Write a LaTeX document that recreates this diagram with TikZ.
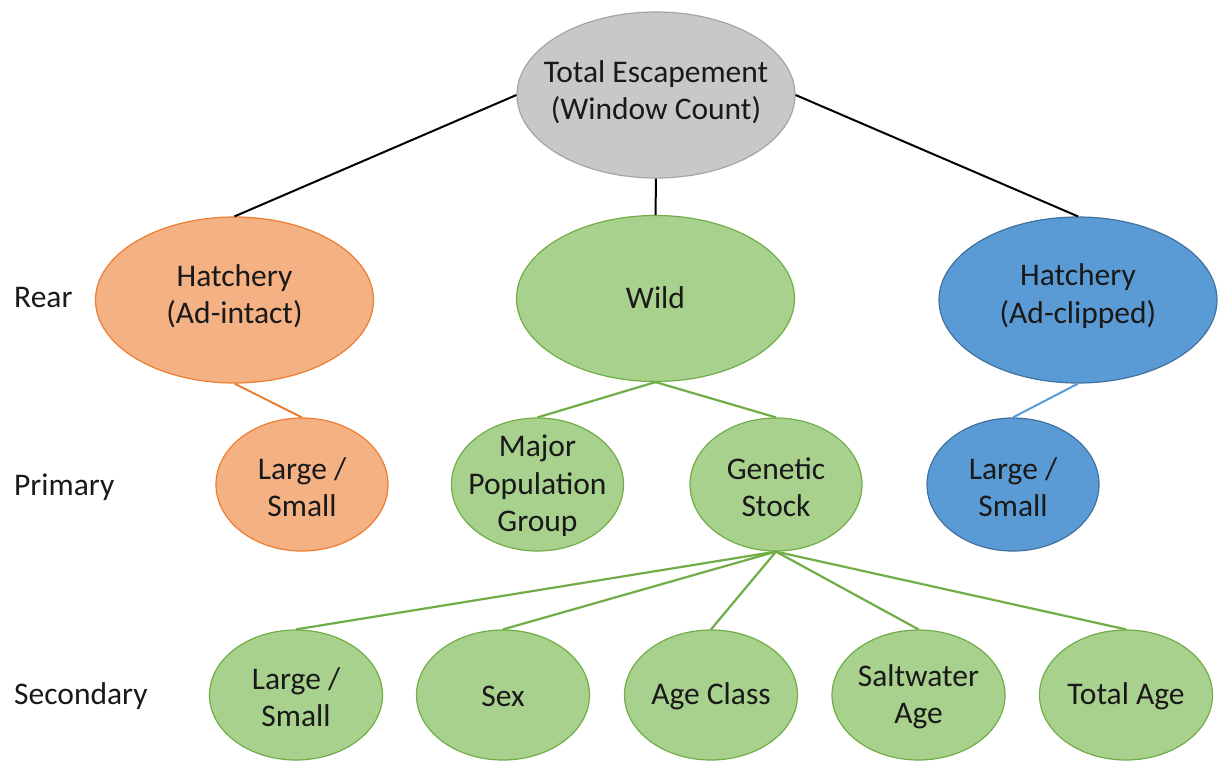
\documentclass[tikz,border=0pt]{standalone}
\usepackage{fontspec}
\setmainfont{Carlito}
\usetikzlibrary{shapes.geometric}
\definecolor{grayfill}{HTML}{C8C8C8}
\definecolor{grayline}{HTML}{A5A5A5}
\definecolor{orfill}{HTML}{F4B183}
\definecolor{orline}{HTML}{ED7D31}
\definecolor{grfill}{HTML}{A9D18E}
\definecolor{grline}{HTML}{70AD47}
\definecolor{blfill}{HTML}{5B9BD5}
\definecolor{blline}{HTML}{41719C}
\tikzset{
  ell/.style={ellipse, inner sep=0pt, line width=1.2pt},
  big/.style={ell, minimum width=278pt, minimum height=166pt},
  mid/.style={ell, minimum width=172pt, minimum height=133pt},
  small/.style={ell, minimum width=173pt, minimum height=130pt},
  grayell/.style={fill=grayfill, draw=grayline},
  orell/.style={fill=orfill, draw=orline},
  grell/.style={fill=grfill, draw=grline},
  blell/.style={fill=blfill, draw=blline},
  txt/.style={align=center, font=\fontsize{31.5}{37.5}\selectfont, text=black!90, inner sep=0pt},
  rowlab/.style={anchor=west, font=\fontsize{31.5}{37.5}\selectfont, text=black!90, inner sep=0pt},
  blk/.style={draw=black, line width=2pt},
  grc/.style={draw=grline, line width=2.2pt},
  orc/.style={draw=orline, line width=2pt},
  blc/.style={draw=blfill, line width=2pt},
}
\begin{document}
\begin{tikzpicture}[x=1pt,y=-1pt]
\useasboundingbox (0,0) rectangle (1221,761);
% nodes
\node[big, grayell] (te) at (656,95) {};
\node[big, orell] (ha) at (234.5,300) {};
\node[big, grell] (wi) at (655.5,298.5) {};
\node[big, blell] (hc) at (1078,300) {};
\node[mid, orell] (ol) at (302,484.5) {};
\node[mid, grell] (mp) at (537.5,484.5) {};
\node[mid, grell] (gs) at (776,484.5) {};
\node[mid, blell] (bl) at (1013,484.5) {};
\node[small, grell] (s1) at (296,695) {};
\node[small, grell] (s2) at (503,695) {};
\node[small, grell] (s3) at (711,695) {};
\node[small, grell] (s4) at (918.5,695) {};
\node[small, grell] (s5) at (1126,695) {};
% texts
\node[txt] (tet) at (656,92) {Total Escapement\\(Window Count)};
\node[txt] (hat) at (234.5,296) {Hatchery\\(Ad-intact)};
\node[txt] (wit) at (655.5,298) {Wild};
\node[txt] (hct) at (1078,296) {Hatchery\\(Ad-clipped)};
\node[txt] (olt) at (302,487) {Large /\\Small};
\node[txt] (mpt) at (537.5,486) {Major\\Population\\Group};
\node[txt] (gst) at (776,487) {Genetic\\Stock};
\node[txt] (blt) at (1013,487) {Large /\\Small};
\node[txt] (s1t) at (296,697) {Large /\\Small};
\node[txt] (s2t) at (503,696) {Sex};
\node[txt] (s3t) at (711,696) {Age Class};
\node[txt] (s4t) at (918.5,697) {Saltwater\\Age};
\node[txt] (s5t) at (1126,696) {Total Age};
% row labels
\node[rowlab] (r1) at (14,298) {Rear};
\node[rowlab] (r2) at (14,487) {Primary};
\node[rowlab] (r3) at (14,696) {Secondary};
% connectors
\draw[blk] (te.west) -- (ha.north);
\draw[blk] (te.east) -- (hc.north);
\draw[blk] (te.south) -- (wi.north);
\draw[orc] (ha.south) -- (ol.north);
\draw[grc] (wi.south) -- (mp.north);
\draw[grc] (wi.south) -- (gs.north);
\draw[blc] (hc.south) -- (bl.north);
\draw[grc] (gs.south) -- (s1.north);
\draw[grc] (gs.south) -- (s2.north);
\draw[grc] (gs.south) -- (s3.north);
\draw[grc] (gs.south) -- (s4.north);
\draw[grc] (gs.south) -- (s5.north);
\end{tikzpicture}
\end{document}
